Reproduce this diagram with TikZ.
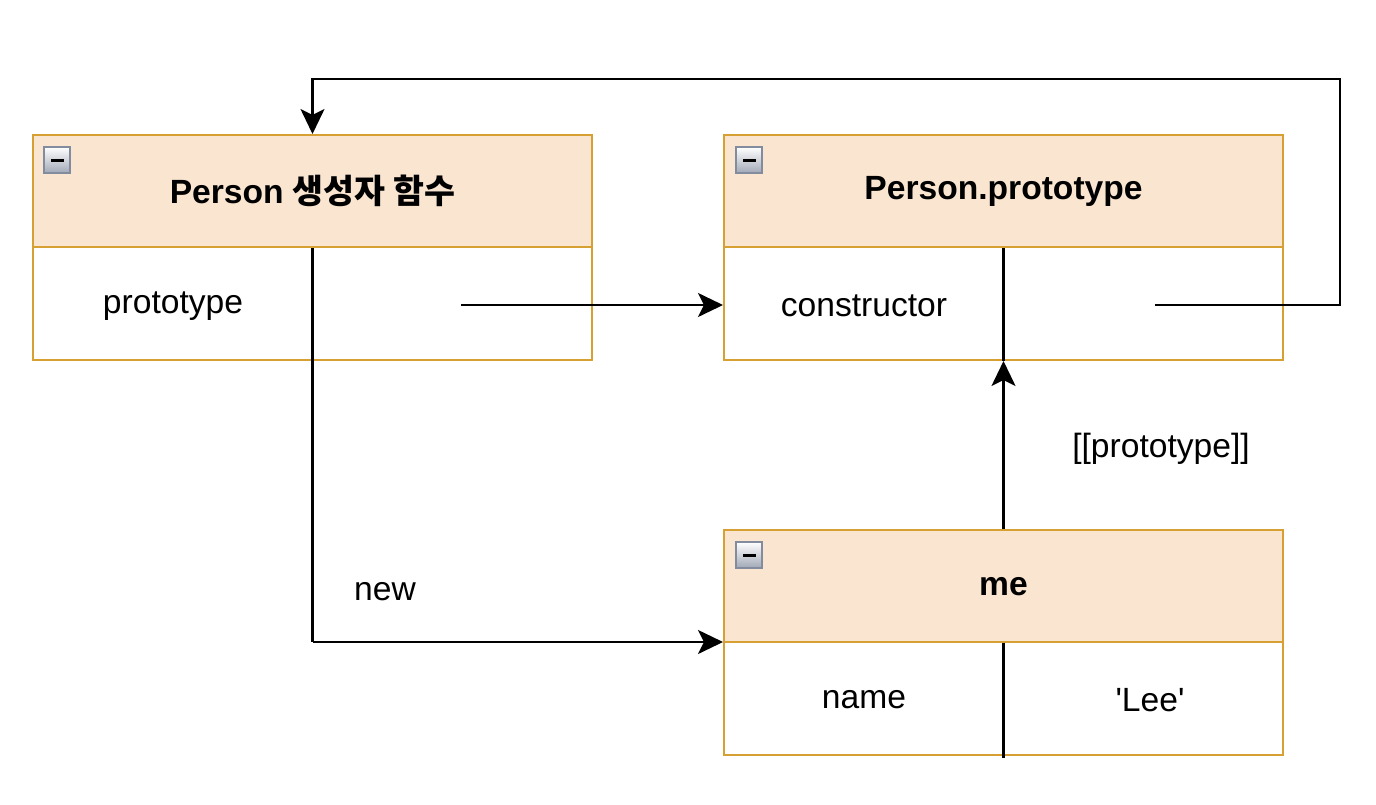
\documentclass[tikz,border=0pt]{standalone}
\usepackage{fontspec}
\setmainfont{Liberation Sans}
\newfontfamily\kr{Noto Sans CJK KR}
\usetikzlibrary{arrows.meta}
\definecolor{hdr}{RGB}{250,230,208}
\definecolor{bord}{RGB}{214,161,50}
\definecolor{icb}{RGB}{130,140,158}
\begin{document}
\begin{tikzpicture}[x=0.5pt,y=-0.5pt,
  every node/.style={font=\fontsize{16.8}{20}\selectfont},
  hdrbox/.style={draw=bord,fill=hdr,line width=1pt,minimum width=279.5pt,minimum height=56pt,inner sep=0pt},
  bodybox/.style={draw=bord,fill=white,line width=1pt,minimum width=279.5pt,minimum height=56.5pt,inner sep=0pt},
  ttl/.style={font=\fontsize{16.8}{20}\selectfont\bfseries},
  conn/.style={line width=1.1pt,black},
  arr/.style={conn,-{Stealth[length=12.5pt,width=12pt,inset=3pt]}},
  divl/.style={line width=1.1pt,black}
]
\useasboundingbox (0,0) rectangle (1376,804);
% boxes
\node[hdrbox] (h1) at (312.5,191) {};
\node[bodybox] (b1) at (312.5,303.5) {};
\node[hdrbox] (h2) at (1003.5,191) {};
\node[bodybox] (b2) at (1003.5,303.5) {};
\node[hdrbox] (h3) at (1003.5,585.5) {};
\node[bodybox] (b3) at (1003.5,698.5) {};
% icons
\foreach \n/\px/\py in {i1/44/147, i2/736/147, i3/736/542}{
  \shade[top color=white,bottom color=icb!75,draw=icb,line width=1pt] (\px,\py) rectangle ++(26,26);
  \fill[black] (\px+6.5,\py+11.5) rectangle ++(13,3.5);
}
% titles
\node[ttl] (t1) at (312.5,191) {Person {\kr\bfseries 생성자 함수}};
\node[ttl] (t2) at (1003.5,191) {Person.prototype};
\node[ttl] (t3) at (1003.5,587) {me};
% cells
\node (c11) at (173,306) {prototype};
\node (c21) at (864,306) {constructor};
\node (c31) at (864,700) {name};
\node (c32) at (1150,700) {\textquotesingle Lee\textquotesingle};
% column dividers
\draw[divl] (h2.south) -- (b2.south);
\draw[divl] (h3.south) -- ([yshift=-1pt]b3.south);
% coordinates
\coordinate (p1) at (461,305);
\coordinate (p2) at (1155,305);
\coordinate (p3) at (1340,305);
\coordinate (p4) at (1340,79);
\coordinate (p5) at (312.5,642);
% connectors
\draw[conn] (h1.south) -- (p5);
\draw[arr] (p5) -- (p5 -| h3.west);
\draw[arr] (p1) -- (p1 -| b2.west);
\draw[arr] (h3.north) -- (b2.south);
\draw[arr] (p2) -- (p3) -- (p4) -| (h1.north);
% labels
\node (lnew) at (385,592) {new};
\node (lproto) at (1161,449) {[[prototype]]};
\end{tikzpicture}
\end{document}
